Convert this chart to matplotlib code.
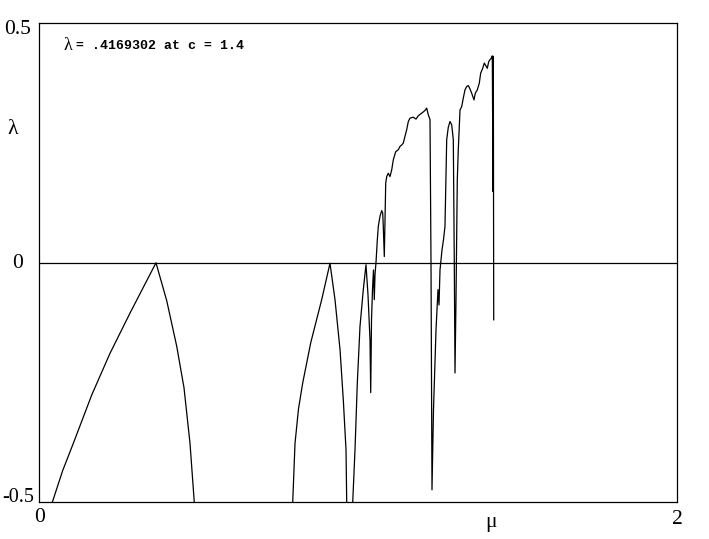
import numpy as np
import matplotlib
matplotlib.use('Agg')
import matplotlib.pyplot as plt

# Lyapunov exponent, three visible pieces
mu_1 = [0.0426, 0.0750, 0.1084, 0.1661, 0.2234, 0.2861, 0.3675,
        0.4011, 0.4324, 0.4553, 0.4741, 0.4875]
lam_1 = [-0.500, -0.434, -0.377, -0.276, -0.189, -0.105, 0.000,
         -0.079, -0.174, -0.261, -0.377, -0.500]

mu_2 = [0.7959, 0.8000, 0.8031, 0.8140, 0.8272, 0.8523, 0.8867, 0.9127,
        0.9284, 0.9441, 0.9544, 0.9629, 0.9651]
lam_2 = [-0.500, -0.430, -0.377, -0.305, -0.251, -0.167, -0.077, -0.001,
         -0.077, -0.181, -0.286, -0.390, -0.500]

mu_3 = [0.9839, 0.9911, 0.9983, 1.0067, 1.0171, 1.0255, 1.0318, 1.0381, 1.0403,
        1.0428, 1.0459, 1.0490, 1.0515, 1.0537, 1.0569, 1.0610, 1.0641, 1.0694,
        1.0747, 1.0779, 1.0797, 1.0829, 1.0873, 1.0904, 1.0954, 1.1007, 1.1061,
        1.1111, 1.1186, 1.1267, 1.1321, 1.1374, 1.1424, 1.1477, 1.1531, 1.1581,
        1.1634, 1.1737, 1.1822, 1.1894, 1.1969, 1.2032, 1.2104, 1.2157, 1.2207,
        1.2261, 1.2292, 1.2323, 1.2370, 1.2449, 1.2511, 1.2543, 1.2574, 1.2637,
        1.2683, 1.2730, 1.2784, 1.2834, 1.2887, 1.2941, 1.2991, 1.3022, 1.3044,
        1.3075, 1.3116, 1.3147, 1.3201, 1.3254, 1.3304, 1.3357, 1.3411, 1.3461,
        1.3514, 1.3567, 1.3639, 1.3680, 1.3743, 1.3805, 1.3849, 1.3912, 1.3962,
        1.4015, 1.4056, 1.4100, 1.4141, 1.4182, 1.4213, 1.4235, 1.4245, 1.4257]
lam_3 = [-0.500, -0.390, -0.251, -0.133, -0.056, -0.004, -0.067, -0.161, -0.271,
         -0.119, -0.056, -0.015, -0.077, -0.025, 0.001, 0.048, 0.076, 0.097,
         0.109, 0.104, 0.076, 0.013, 0.166, 0.180, 0.187, 0.180, 0.194,
         0.215, 0.232, 0.236, 0.243, 0.246, 0.250, 0.264, 0.278, 0.295,
         0.302, 0.304, 0.300, 0.307, 0.311, 0.314, 0.318, 0.323, 0.309,
         0.299, 0.001, -0.474, -0.307, -0.140, -0.056, -0.088, -0.015, 0.027,
         0.048, 0.076, 0.257, 0.283, 0.295, 0.288, 0.257, 0.001, -0.230,
         -0.077, 0.173, 0.236, 0.319, 0.326, 0.344, 0.361, 0.368, 0.370,
         0.363, 0.354, 0.340, 0.354, 0.361, 0.375, 0.396, 0.406, 0.417,
         0.411, 0.406, 0.420, 0.424, 0.427, 0.432, 0.149, 0.431, -0.119]

W, H = 709, 539
fig = plt.figure(figsize=(W/100, H/100), dpi=100)
ax = fig.add_axes([38.7/W, 1-502.3/H, (677-38.7)/W, (502.3-23.3)/H])

for m, l in [(mu_1, lam_1), (mu_2, lam_2), (mu_3, lam_3)]:
    ax.plot(m, l, color='k', lw=0.9)
ax.axhline(0, color='k', lw=0.9)

ax.set_xlim(0, 2)
ax.set_ylim(-0.5, 0.5)
ax.set_xticks([])
ax.set_yticks([])
for s in ax.spines.values():
    s.set_linewidth(0.9)

serif = 'Liberation Serif'
fs = 15.5
def ftext(px, py, s, **kw):
    fig.text(px/W, 1-py/H, s, **kw)

ftext(31, 29, '0.5', family=serif, fontsize=fs, ha='right', va='center')
ftext(23, 264, '0', family=serif, fontsize=fs, ha='right', va='center')
ftext(34, 497, '-0.5', family=serif, fontsize=14.5, ha='right', va='center')
ftext(40, 517, '0', family=serif, fontsize=fs, ha='center', va='center')
ftext(677, 519, '2', family=serif, fontsize=fs, ha='center', va='center')
ftext(13, 130, 'λ', family=serif, fontsize=fs, ha='center', va='center')
ftext(491, 523, 'μ', family=serif, fontsize=fs, ha='center', va='center')

ftext(63, 46, 'λ', family=serif, fontsize=13, ha='left', va='center')
ftext(76, 46, '= .4169302 at c = 1.4', family='Liberation Mono',
      fontsize=9.5, fontweight='bold', ha='left', va='center')

fig.savefig('out.png', dpi=100)
